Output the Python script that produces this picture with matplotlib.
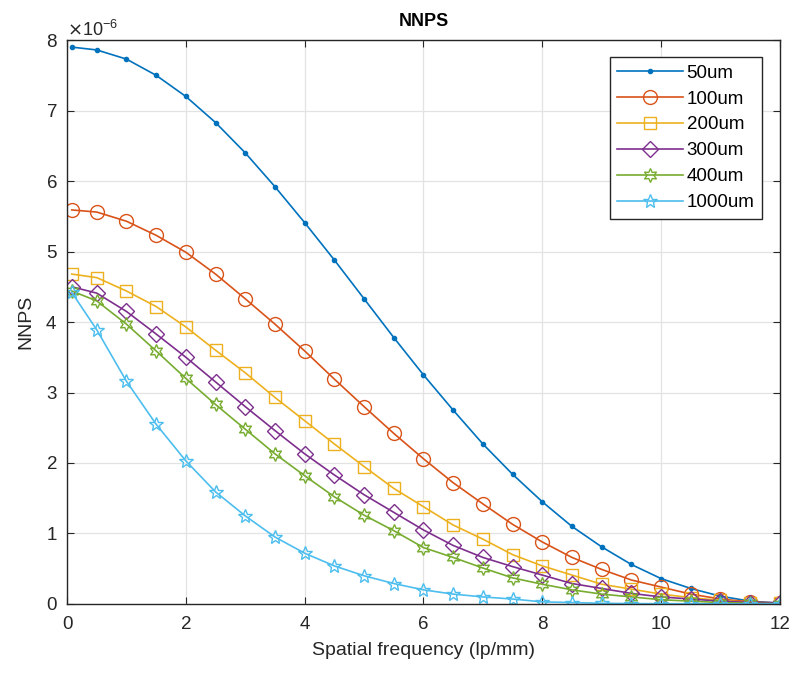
import numpy as np
import matplotlib.pyplot as plt
from matplotlib.ticker import ScalarFormatter

plt.rcParams['font.family'] = ['Liberation Sans', 'DejaVu Sans']

# Spatial frequency (lp/mm)
freq = [0.08, 0.5, 1.0, 1.5, 2.0, 2.5, 3.0, 3.5, 4.0, 4.5, 5.0, 5.5, 6.0,
        6.5, 7.0, 7.5, 8.0, 8.5, 9.0, 9.5, 10.0, 10.5, 11.0, 11.5, 12.0]

# NNPS values in units of 1e-6
nnps_50 = [7.90, 7.86, 7.73, 7.50, 7.20, 6.83, 6.40, 5.92, 5.41, 4.88, 4.33,
           3.78, 3.25, 2.75, 2.27, 1.84, 1.45, 1.10, 0.81, 0.56, 0.36, 0.22,
           0.11, 0.04, 0.01]
nnps_100 = [5.59, 5.56, 5.43, 5.23, 4.99, 4.68, 4.33, 3.97, 3.59, 3.19, 2.80,
            2.42, 2.06, 1.72, 1.42, 1.13, 0.88, 0.66, 0.49, 0.34, 0.24, 0.14,
            0.07, 0.03, 0.01]
nnps_200 = [4.68, 4.63, 4.44, 4.22, 3.93, 3.60, 3.28, 2.93, 2.60, 2.27, 1.95,
            1.64, 1.38, 1.12, 0.92, 0.70, 0.54, 0.41, 0.28, 0.21, 0.14, 0.09,
            0.05, 0.02, 0.01]
nnps_300 = [4.50, 4.41, 4.15, 3.83, 3.50, 3.15, 2.80, 2.46, 2.13, 1.83, 1.55,
            1.30, 1.05, 0.83, 0.66, 0.53, 0.41, 0.29, 0.22, 0.15, 0.10, 0.07,
            0.04, 0.02, 0.02]
nnps_400 = [4.44, 4.30, 3.97, 3.59, 3.20, 2.83, 2.48, 2.13, 1.82, 1.52, 1.26,
            1.04, 0.80, 0.66, 0.51, 0.37, 0.28, 0.20, 0.14, 0.10, 0.06, 0.04,
            0.02, 0.01, 0.005]
nnps_1000 = [4.42, 3.89, 3.16, 2.55, 2.03, 1.59, 1.25, 0.95, 0.72, 0.54, 0.40,
             0.29, 0.20, 0.14, 0.10, 0.07, 0.03, 0.02, 0.01, 0.005, 0.004,
             0.003, 0.002, 0.001, 0.001]

labels = ['50um', '100um', '200um', '300um', '400um', '1000um']
series = [nnps_50, nnps_100, nnps_200, nnps_300, nnps_400, nnps_1000]

colors = ['#0072BD', '#D95319', '#EDB120', '#7E2F8E', '#77AC30', '#4DBEEE']
markers = ['.', 'o', 's', 'D', (6, 1, 0), '*']
msizes = [6, 10, 8, 8, 10, 10]

fig = plt.figure(figsize=(7.95, 6.79), dpi=100)
ax = fig.add_axes([0.0843, 0.1105, 0.8967, 0.8305])

for y, lab, c, m, ms in zip(series, labels, colors, markers, msizes):
    ax.plot(freq, np.array(y) * 1e-6, color=c, marker=m, markersize=ms,
            markerfacecolor=c if m == '.' else 'none', markeredgewidth=1.0,
            linewidth=1.2, label=lab)

ax.set_xlim(0, 12)
ax.set_ylim(0, 8e-6)
ax.set_xticks(np.arange(0, 13, 2))
ax.set_yticks(np.arange(0, 9, 1) * 1e-6)

fmt = ScalarFormatter(useMathText=True)
fmt.set_powerlimits((0, 0))
ax.yaxis.set_major_formatter(fmt)
ax.yaxis.get_offset_text().set_fontsize(13)
ax.yaxis.get_offset_text().set_color('#262626')

ax.grid(True, color='#e3e3e3', linewidth=0.9)
ax.set_axisbelow(True)
ax.tick_params(direction='in', top=True, right=True, labelsize=13.5,
               colors='#262626', length=5)
ax.tick_params(axis='x', pad=9)
ax.tick_params(axis='y', pad=7)
for s in ax.spines.values():
    s.set_color('#262626')
    s.set_linewidth(1.0)

ax.set_xlabel('Spatial frequency (lp/mm)', fontsize=14, color='#262626',
              labelpad=6)
ax.set_ylabel('NNPS', fontsize=14, color='#262626', labelpad=8)
ax.set_title('NNPS', fontsize=13, fontweight='bold', pad=10)

leg = ax.legend(loc='upper right', bbox_to_anchor=(0.975, 0.97),
                fontsize=13.5, handlelength=3.5, fancybox=False,
                framealpha=1, edgecolor='#262626', borderpad=0.4,
                labelspacing=0.47, handletextpad=0.2, borderaxespad=0)
leg.get_frame().set_linewidth(1.0)

fig.savefig('out.png')
